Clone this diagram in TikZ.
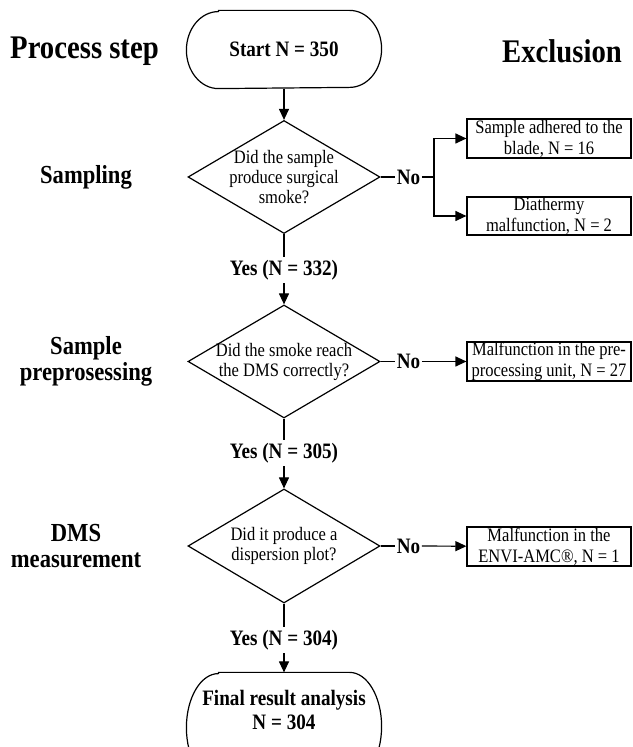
\documentclass[tikz,border=0pt]{standalone}
\usepackage{fontspec}
\setmainfont{Liberation Serif}[FakeStretch=0.87]
\usetikzlibrary{shapes.geometric,arrows.meta}

% outline of a terminal node: straight top and bottom, elliptic ends
\newcommand\terminaloutline[3]{%
  \draw (#1.north west) ++(#2,0) -- ([xshift=-#2]#1.north east)
    arc[start angle=90,end angle=-90,x radius=#2,y radius=#3]
    -- ([xshift=#2]#1.south west)
    arc[start angle=270,end angle=90,x radius=#2,y radius=#3] -- cycle;}

\begin{document}
\begin{tikzpicture}[x=1pt,y=1pt,line width=1.2pt,
  flow/.style={-{Triangle[length=11pt,width=10pt]}},
  decision/.style={draw,diamond,minimum width=192pt,minimum height=113pt,inner sep=0pt},
  qtext/.style={align=center,inner sep=0pt,font=\fontsize{19}{20}\selectfont},
  exclbox/.style={draw,minimum width=164pt,minimum height=39pt,inner sep=0pt,
    align=center,font=\fontsize{19}{21}\selectfont},
  answer/.style={inner xsep=1pt,inner ysep=2.5pt,font=\fontsize{22}{24}\selectfont\bfseries},
  terminal/.style={minimum width=194pt,inner sep=0pt,align=center,
    font=\fontsize{22}{24}\selectfont\bfseries},
  steplabel/.style={align=center,font=\fontsize{26}{26}\selectfont\bfseries},
  heading/.style={font=\fontsize{33}{36}\selectfont\bfseries},
]
\useasboundingbox (0,0) rectangle (632,747);

% column headings
\node[heading] (hproc) at (84.5,695.5) {Process step};
\node[heading] (hexcl) at (562,695.5) {Exclusion};

% process step labels
\node[steplabel] (lsamp) at (86,570) {Sampling};
\node[steplabel] (lprep) at (86,385.5) {Sample\\preprosessing};
\node[steplabel] (ldms)  at (76,201) {DMS\\measurement};

% start
\node[terminal,minimum height=77pt] (s) at (284,697.5) {Start N = 350};
\terminaloutline{s}{32pt}{38.5pt}

% decisions
\node[decision] (d1) at (284,570) {};
\node[qtext] (d1t) at (284,570) {Did the sample\\produce surgical\\smoke?};
\node[decision] (d2) at (284,385.5) {};
\node[qtext] (d2t) at (284,385.5) {Did the smoke reach\\the DMS correctly?};
\node[decision,minimum height=114pt] (d3) at (284,201) {};
\node[qtext] (d3t) at (284,201) {Did it produce a\\dispersion plot?};

% yes answers
\node[answer] (y1) at (284,477) {Yes (N = 332)};
\node[answer] (y2) at (284,294) {Yes (N = 305)};
\node[answer] (y3) at (284,107) {Yes (N = 304)};

% no answers
\node[answer] (n1) at (408.5,570) {No};
\node[answer] (n2) at (408.5,385.5) {No};
\node[answer] (n3) at (408.5,201) {No};
\coordinate (br) at (434,570);

% exclusions
\node[exclbox] (b1) at (549,608.5) {Sample adhered to the\\blade, N = 16};
\node[exclbox,minimum height=38pt] (b2) at (549,531) {Diathermy\\malfunction, N = 2};
\node[exclbox] (b3) at (549,385.5) {Malfunction in the pre-\\processing unit, N = 27};
\node[exclbox] (b4) at (549,200.5) {Malfunction in the\\ENVI-AMC®, N = 1};

% final
\node[terminal,minimum height=108pt] (fin) at (284,20) {};
\terminaloutline{fin}{32pt}{54pt}
\node[terminal] (fint) at (284,37) {Final result analysis\\N = 304};

% connectors
\draw[flow] (s) -- (d1);
\draw (d1) -- (y1);
\draw[flow] (y1) -- (d2);
\draw (d2) -- (y2);
\draw[flow] (y2) -- (d3);
\draw (d3) -- (y3);
\draw[flow] (y3) -- (fin);

\draw (d1) -- (n1);
\draw (n1) -- (br);
\draw[flow] (br) |- (b1);
\draw[flow] (br) |- (b2);
\draw (d2) -- (n2);
\draw[flow] (n2) -- (b3);
\draw (d3) -- (n3);
\draw[flow] (n3) -- (b4);
\end{tikzpicture}
\end{document}
